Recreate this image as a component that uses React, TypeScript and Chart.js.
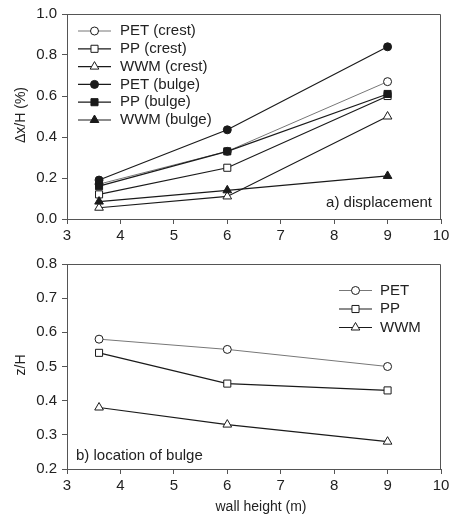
import React, { useEffect, useRef } from 'react';
import { Chart, registerables } from 'chart.js';

Chart.register(...registerables);

// ---------- data ----------
const wallHeights = [3.6, 6, 9];
const xTickValues = [3, 4, 5, 6, 7, 8, 9, 10];

// a) displacement  (Δx/H, %)
const petCrest = [0.17, 0.33, 0.67];
const ppCrest = [0.12, 0.25, 0.6];
const wwmCrest = [0.055, 0.11, 0.5];
const petBulge = [0.19, 0.435, 0.84];
const ppBulge = [0.16, 0.33, 0.61];
const wwmBulge = [0.085, 0.14, 0.21];
const topYTicks = [0, 0.2, 0.4, 0.6, 0.8, 1.0];

// b) location of bulge (z/H)
const petZ = [0.58, 0.55, 0.5];
const ppZ = [0.54, 0.45, 0.43];
const wwmZ = [0.38, 0.33, 0.28];
const bottomYTicks = [0.2, 0.3, 0.4, 0.5, 0.6, 0.7, 0.8];

const topLabels = ['PET (crest)', 'PP (crest)', 'WWM (crest)', 'PET (bulge)', 'PP (bulge)', 'WWM (bulge)'];
const bottomLabels = ['PET', 'PP', 'WWM'];

// ---------- styles ----------
const FONT_FAMILY = '"Liberation Sans", Arial, Helvetica, sans-serif';
const TEXT = '#222';
const AXIS = '#555';
const LINE_DARK = '#1a1a1a';
const LINE_GRAY = '#777';

type Series = {
  label: string;
  values: number[];
  shape: 'circle' | 'rect' | 'triangle';
  filled: boolean;
  lineColor: string;
  lineWidth: number;
};

const topSeries: Series[] = [
  { label: topLabels[0], values: petCrest, shape: 'circle', filled: false, lineColor: LINE_GRAY, lineWidth: 1 },
  { label: topLabels[1], values: ppCrest, shape: 'rect', filled: false, lineColor: LINE_DARK, lineWidth: 1.2 },
  { label: topLabels[2], values: wwmCrest, shape: 'triangle', filled: false, lineColor: LINE_DARK, lineWidth: 1.2 },
  { label: topLabels[3], values: petBulge, shape: 'circle', filled: true, lineColor: LINE_DARK, lineWidth: 1.2 },
  { label: topLabels[4], values: ppBulge, shape: 'rect', filled: true, lineColor: LINE_DARK, lineWidth: 1.2 },
  { label: topLabels[5], values: wwmBulge, shape: 'triangle', filled: true, lineColor: LINE_DARK, lineWidth: 1.2 },
];

const bottomSeries: Series[] = [
  { label: bottomLabels[0], values: petZ, shape: 'circle', filled: false, lineColor: LINE_GRAY, lineWidth: 1 },
  { label: bottomLabels[1], values: ppZ, shape: 'rect', filled: false, lineColor: LINE_DARK, lineWidth: 1.2 },
  { label: bottomLabels[2], values: wwmZ, shape: 'triangle', filled: false, lineColor: LINE_DARK, lineWidth: 1.2 },
];

const radiusFor = (shape: string) => (shape === 'circle' ? 4 : 5);

function drawMarker(ctx: CanvasRenderingContext2D, shape: string, x: number, y: number, filled: boolean) {
  const r = radiusFor(shape);
  ctx.beginPath();
  if (shape === 'circle') {
    ctx.arc(x, y, r, 0, Math.PI * 2);
  } else if (shape === 'rect') {
    const s = Math.SQRT1_2 * r;
    ctx.rect(x - s, y - s, 2 * s, 2 * s);
  } else {
    let rad = 0;
    ctx.moveTo(x + Math.sin(rad) * r, y - Math.cos(rad) * r);
    rad += (2 * Math.PI) / 3;
    ctx.lineTo(x + Math.sin(rad) * r, y - Math.cos(rad) * r);
    rad += (2 * Math.PI) / 3;
    ctx.lineTo(x + Math.sin(rad) * r, y - Math.cos(rad) * r);
    ctx.closePath();
  }
  ctx.fillStyle = filled ? LINE_DARK : '#fff';
  ctx.fill();
  ctx.lineWidth = 1;
  ctx.strokeStyle = LINE_DARK;
  ctx.stroke();
}

type Extra = {
  legend: { lineX0: number; lineX1: number; textX: number; rows: number[] };
  annotation: { text: string; x: number; y: number; align: CanvasTextAlign };
  yTitle: { text: string; x: number; y: number };
  xTitle?: { text: string; x: number; y: number };
};

function makeOverlayPlugin(series: Series[], extra: Extra) {
  return {
    id: 'overlay',
    afterDraw(chart: any) {
      const { ctx, chartArea: a } = chart;
      ctx.save();
      // frame top and right
      ctx.strokeStyle = AXIS;
      ctx.lineWidth = 1;
      const top = Math.round(a.top) + 0.5;
      const right = Math.round(a.right) - 0.5;
      ctx.beginPath();
      ctx.moveTo(Math.round(a.left), top);
      ctx.lineTo(right, top);
      ctx.lineTo(right, Math.round(a.bottom));
      ctx.stroke();

      // legend
      ctx.font = `15px ${FONT_FAMILY}`;
      ctx.textBaseline = 'middle';
      ctx.textAlign = 'left';
      const lg = extra.legend;
      series.forEach((s, i) => {
        const y = lg.rows[i];
        ctx.beginPath();
        ctx.strokeStyle = s.lineColor;
        ctx.lineWidth = s.lineWidth;
        ctx.moveTo(lg.lineX0, y);
        ctx.lineTo(lg.lineX1, y);
        ctx.stroke();
        drawMarker(ctx, s.shape, (lg.lineX0 + lg.lineX1) / 2, y, s.filled);
        ctx.fillStyle = TEXT;
        ctx.fillText(s.label, lg.textX, y);
      });

      // annotation
      ctx.fillStyle = TEXT;
      ctx.textAlign = extra.annotation.align;
      ctx.fillText(extra.annotation.text, extra.annotation.x, extra.annotation.y);

      // y title
      ctx.save();
      ctx.font = `14px ${FONT_FAMILY}`;
      ctx.translate(extra.yTitle.x, extra.yTitle.y);
      ctx.rotate(-Math.PI / 2);
      ctx.textAlign = 'center';
      ctx.fillText(extra.yTitle.text, 0, 0);
      ctx.restore();

      // x title
      if (extra.xTitle) {
        ctx.font = `14px ${FONT_FAMILY}`;
        ctx.textAlign = 'center';
        ctx.fillText(extra.xTitle.text, extra.xTitle.x, extra.xTitle.y);
      }
      ctx.restore();
    },
  };
}

function buildConfig(
  series: Series[],
  yTicks: number[],
  xAxisHeight: number,
  extra: Extra
): any {
  const tickFont = { family: FONT_FAMILY, size: 15 };
  return {
    type: 'line',
    data: {
      datasets: series.map((s) => ({
        label: s.label,
        data: wallHeights.map((h, i) => ({ x: h, y: s.values[i] })),
        order: s.filled ? 0 : 1,
        borderColor: s.lineColor,
        borderWidth: s.lineWidth,
        pointStyle: s.shape,
        pointRadius: radiusFor(s.shape),
        pointBorderWidth: 1,
        pointBorderColor: LINE_DARK,
        pointBackgroundColor: s.filled ? LINE_DARK : '#fff',
        fill: false,
        tension: 0,
      })),
    },
    options: {
      animation: false,
      responsive: false,
      devicePixelRatio: 1,
      layout: { padding: { top: 11, right: 16, left: 0, bottom: 0 } },
      plugins: { legend: { display: false }, tooltip: { enabled: false } },
      scales: {
        x: {
          type: 'linear',
          min: xTickValues[0],
          max: xTickValues[xTickValues.length - 1],
          afterBuildTicks: (scale: any) => {
            scale.ticks = xTickValues.map((v) => ({ value: v }));
          },
          afterFit: (scale: any) => {
            scale.height = xAxisHeight;
          },
          ticks: {
            font: tickFont,
            color: TEXT,
            padding: 3,
            maxRotation: 0,
            callback: (v: number) => String(v),
          },
          grid: { display: true, drawOnChartArea: false, drawTicks: true, tickLength: 5, color: AXIS },
          border: { display: true, color: AXIS, width: 1 },
        },
        y: {
          type: 'linear',
          min: yTicks[0],
          max: yTicks[yTicks.length - 1],
          afterBuildTicks: (scale: any) => {
            scale.ticks = yTicks.map((v) => ({ value: v }));
          },
          afterFit: (scale: any) => {
            scale.width = 67;
          },
          ticks: {
            font: tickFont,
            color: TEXT,
            padding: 5,
            callback: (v: number) => v.toFixed(1),
          },
          grid: { display: true, drawOnChartArea: false, drawTicks: true, tickLength: 5, color: AXIS },
          border: { display: true, color: AXIS, width: 1 },
        },
      },
    },
    plugins: [makeOverlayPlugin(series, extra)],
  };
}

function ChartCanvas({ height, config }: { height: number; config: () => any }) {
  const ref = useRef<HTMLCanvasElement | null>(null);
  useEffect(() => {
    if (!ref.current) return;
    const chart = new Chart(ref.current, config());
    return () => chart.destroy();
  }, []);
  return <canvas ref={ref} width={457} height={height} style={{ display: 'block', width: 457, height }} />;
}

export default function App() {
  const topConfig = () =>
    buildConfig(topSeries, topYTicks, 31, {
      legend: { lineX0: 78, lineX1: 111, textX: 120, rows: [31, 48.8, 66.6, 84.4, 102.2, 120] },
      annotation: { text: 'a) displacement', x: 432, y: 203, align: 'right' },
      yTitle: { text: 'Δx/H (%)', x: 21, y: 115 },
    });
  const bottomConfig = () =>
    buildConfig(bottomSeries, bottomYTicks, 49, {
      legend: { lineX0: 339, lineX1: 372, textX: 380, rows: [40.5, 59, 77.5] },
      annotation: { text: 'b) location of bulge', x: 76, y: 205.5, align: 'left' },
      yTitle: { text: 'z/H', x: 21, y: 115 },
      xTitle: { text: 'wall height (m)', x: 261, y: 257 },
    });
  return (
    <div style={{ position: 'absolute', left: 0, top: 0, width: 457, height: 518, background: '#fff' }}>
      <ChartCanvas height={250} config={topConfig} />
      <ChartCanvas height={268} config={bottomConfig} />
    </div>
  );
}
